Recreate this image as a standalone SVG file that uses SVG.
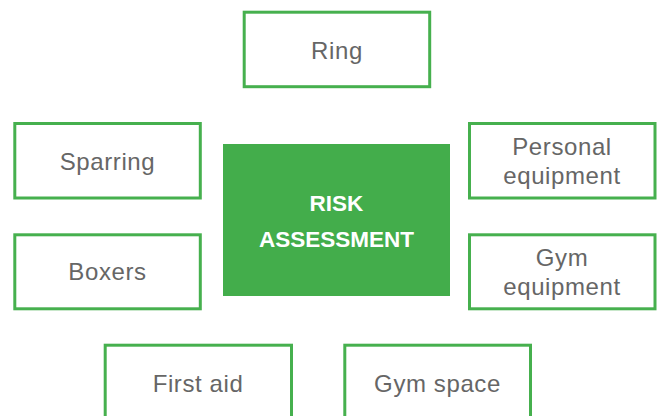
<svg xmlns="http://www.w3.org/2000/svg" width="659" height="416" viewBox="0 0 659 416">
<style>
.box{fill:#fff;stroke:#46b04e;stroke-width:3}
.lbl{font-family:"Liberation Sans",Arial,sans-serif;font-size:24px;fill:#666;text-anchor:middle;letter-spacing:0.6px}
.ctr{font-family:"Liberation Sans",Arial,sans-serif;font-size:22.5px;font-weight:bold;fill:#fff;text-anchor:middle}
</style>
<rect width="659" height="416" fill="#fff"/>
<g id="connectors"></g>
<g id="center">
<rect x="223" y="144" width="227" height="152" fill="#43ad4b"/>
<text class="ctr" x="336.5" y="211">RISK</text>
<text class="ctr" x="336.5" y="247">ASSESSMENT</text>
</g>
<g id="ring">
<rect class="box" x="244.2" y="12.2" width="185.5" height="74.5"/>
<text class="lbl" x="337" y="59">Ring</text>
</g>
<g id="sparring">
<rect class="box" x="14.8" y="123.5" width="185.5" height="74.5"/>
<text class="lbl" x="107.5" y="169.5">Sparring</text>
</g>
<g id="boxers">
<rect class="box" x="14.8" y="234.8" width="185.5" height="74"/>
<text class="lbl" x="107.5" y="280">Boxers</text>
</g>
<g id="personal">
<rect class="box" x="469.5" y="123.5" width="185.5" height="74.5"/>
<text class="lbl" x="562" y="155">Personal</text>
<text class="lbl" x="562" y="184">equipment</text>
</g>
<g id="gymequip">
<rect class="box" x="469.5" y="234.8" width="185.5" height="74"/>
<text class="lbl" x="562" y="266">Gym</text>
<text class="lbl" x="562" y="295">equipment</text>
</g>
<g id="firstaid">
<rect class="box" x="105.2" y="345.2" width="186.3" height="76"/>
<text class="lbl" x="198" y="391.5">First aid</text>
</g>
<g id="gymspace">
<rect class="box" x="344.8" y="345.2" width="185.7" height="76"/>
<text class="lbl" x="437.5" y="391.5">Gym space</text>
</g>
</svg>
